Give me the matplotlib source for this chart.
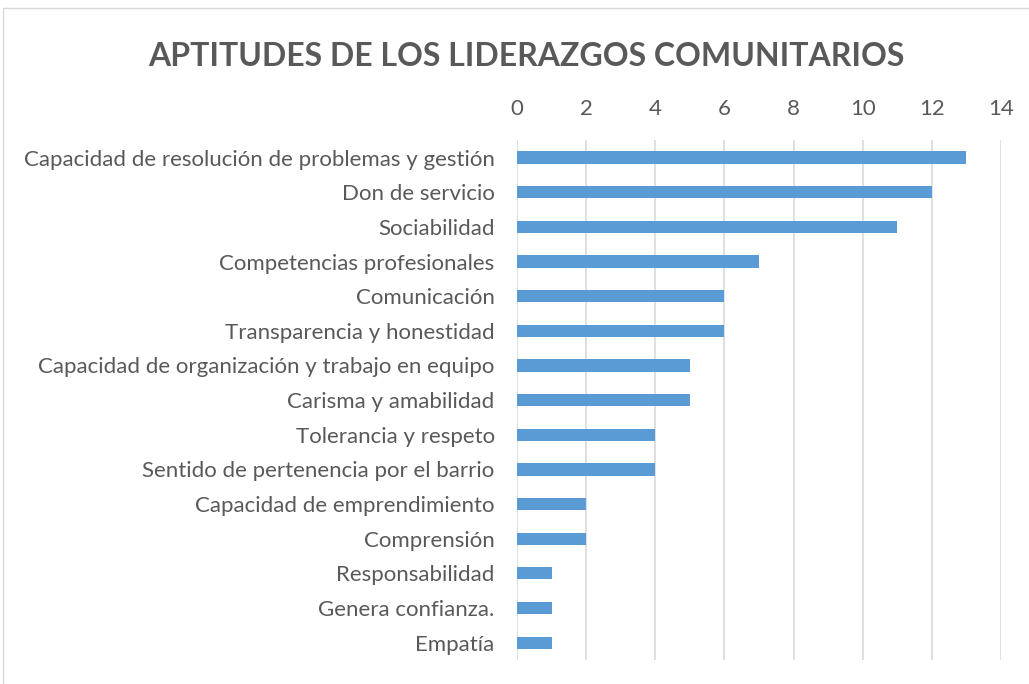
import matplotlib.pyplot as plt
from matplotlib.patches import Rectangle

categorias = ["Capacidad de resolución de problemas y gestión", "Don de servicio",
              "Sociabilidad", "Competencias profesionales", "Comunicación",
              "Transparencia y honestidad", "Capacidad de organización y trabajo en equipo",
              "Carisma y amabilidad", "Tolerancia y respeto",
              "Sentido de pertenencia por el barrio", "Capacidad de emprendimiento",
              "Comprensión", "Responsabilidad", "Genera confianza.", "Empatía"]
valores = [13, 12, 11, 7, 6, 6, 5, 5, 4, 4, 2, 2, 1, 1, 1]
ticks = [0, 2, 4, 6, 8, 10, 12, 14]

plt.rcParams['font.family'] = ['Lato', 'DejaVu Sans']
gris = '#595959'

fig = plt.figure(figsize=(10.29, 6.84), dpi=100)
ax = fig.add_axes([0.5024, 0.035, 0.4704, 0.76])

y = list(range(len(categorias)))
ax.barh(y, valores, height=0.35, color='#5B9BD5', zorder=3)
ax.set_ylim(len(categorias) - 0.5, -0.5)
ax.set_xlim(0, 14)
ax.set_xticks(ticks)
ax.set_yticks(y)
ax.set_yticklabels(categorias)
ax.xaxis.tick_top()
ax.tick_params(axis='both', length=0, labelsize=16, colors=gris)
ax.tick_params(axis='y', pad=16)
ax.tick_params(axis='x', pad=15)
ax.grid(axis='x', color='#D9D9D9', linewidth=1.2, zorder=0)
for s in ax.spines.values():
    s.set_visible(False)

fig.text(0.512, 0.917, "APTITUDES DE LOS LIDERAZGOS COMUNITARIOS", ha='center', va='center',
         fontsize=23, fontweight='bold', color=gris)

fig.patches.append(Rectangle((0.003, -0.01), 1.1, 0.999, transform=fig.transFigure,
                             fill=False, edgecolor='#D9D9D9', linewidth=1))

fig.savefig("out.png", dpi=100)
